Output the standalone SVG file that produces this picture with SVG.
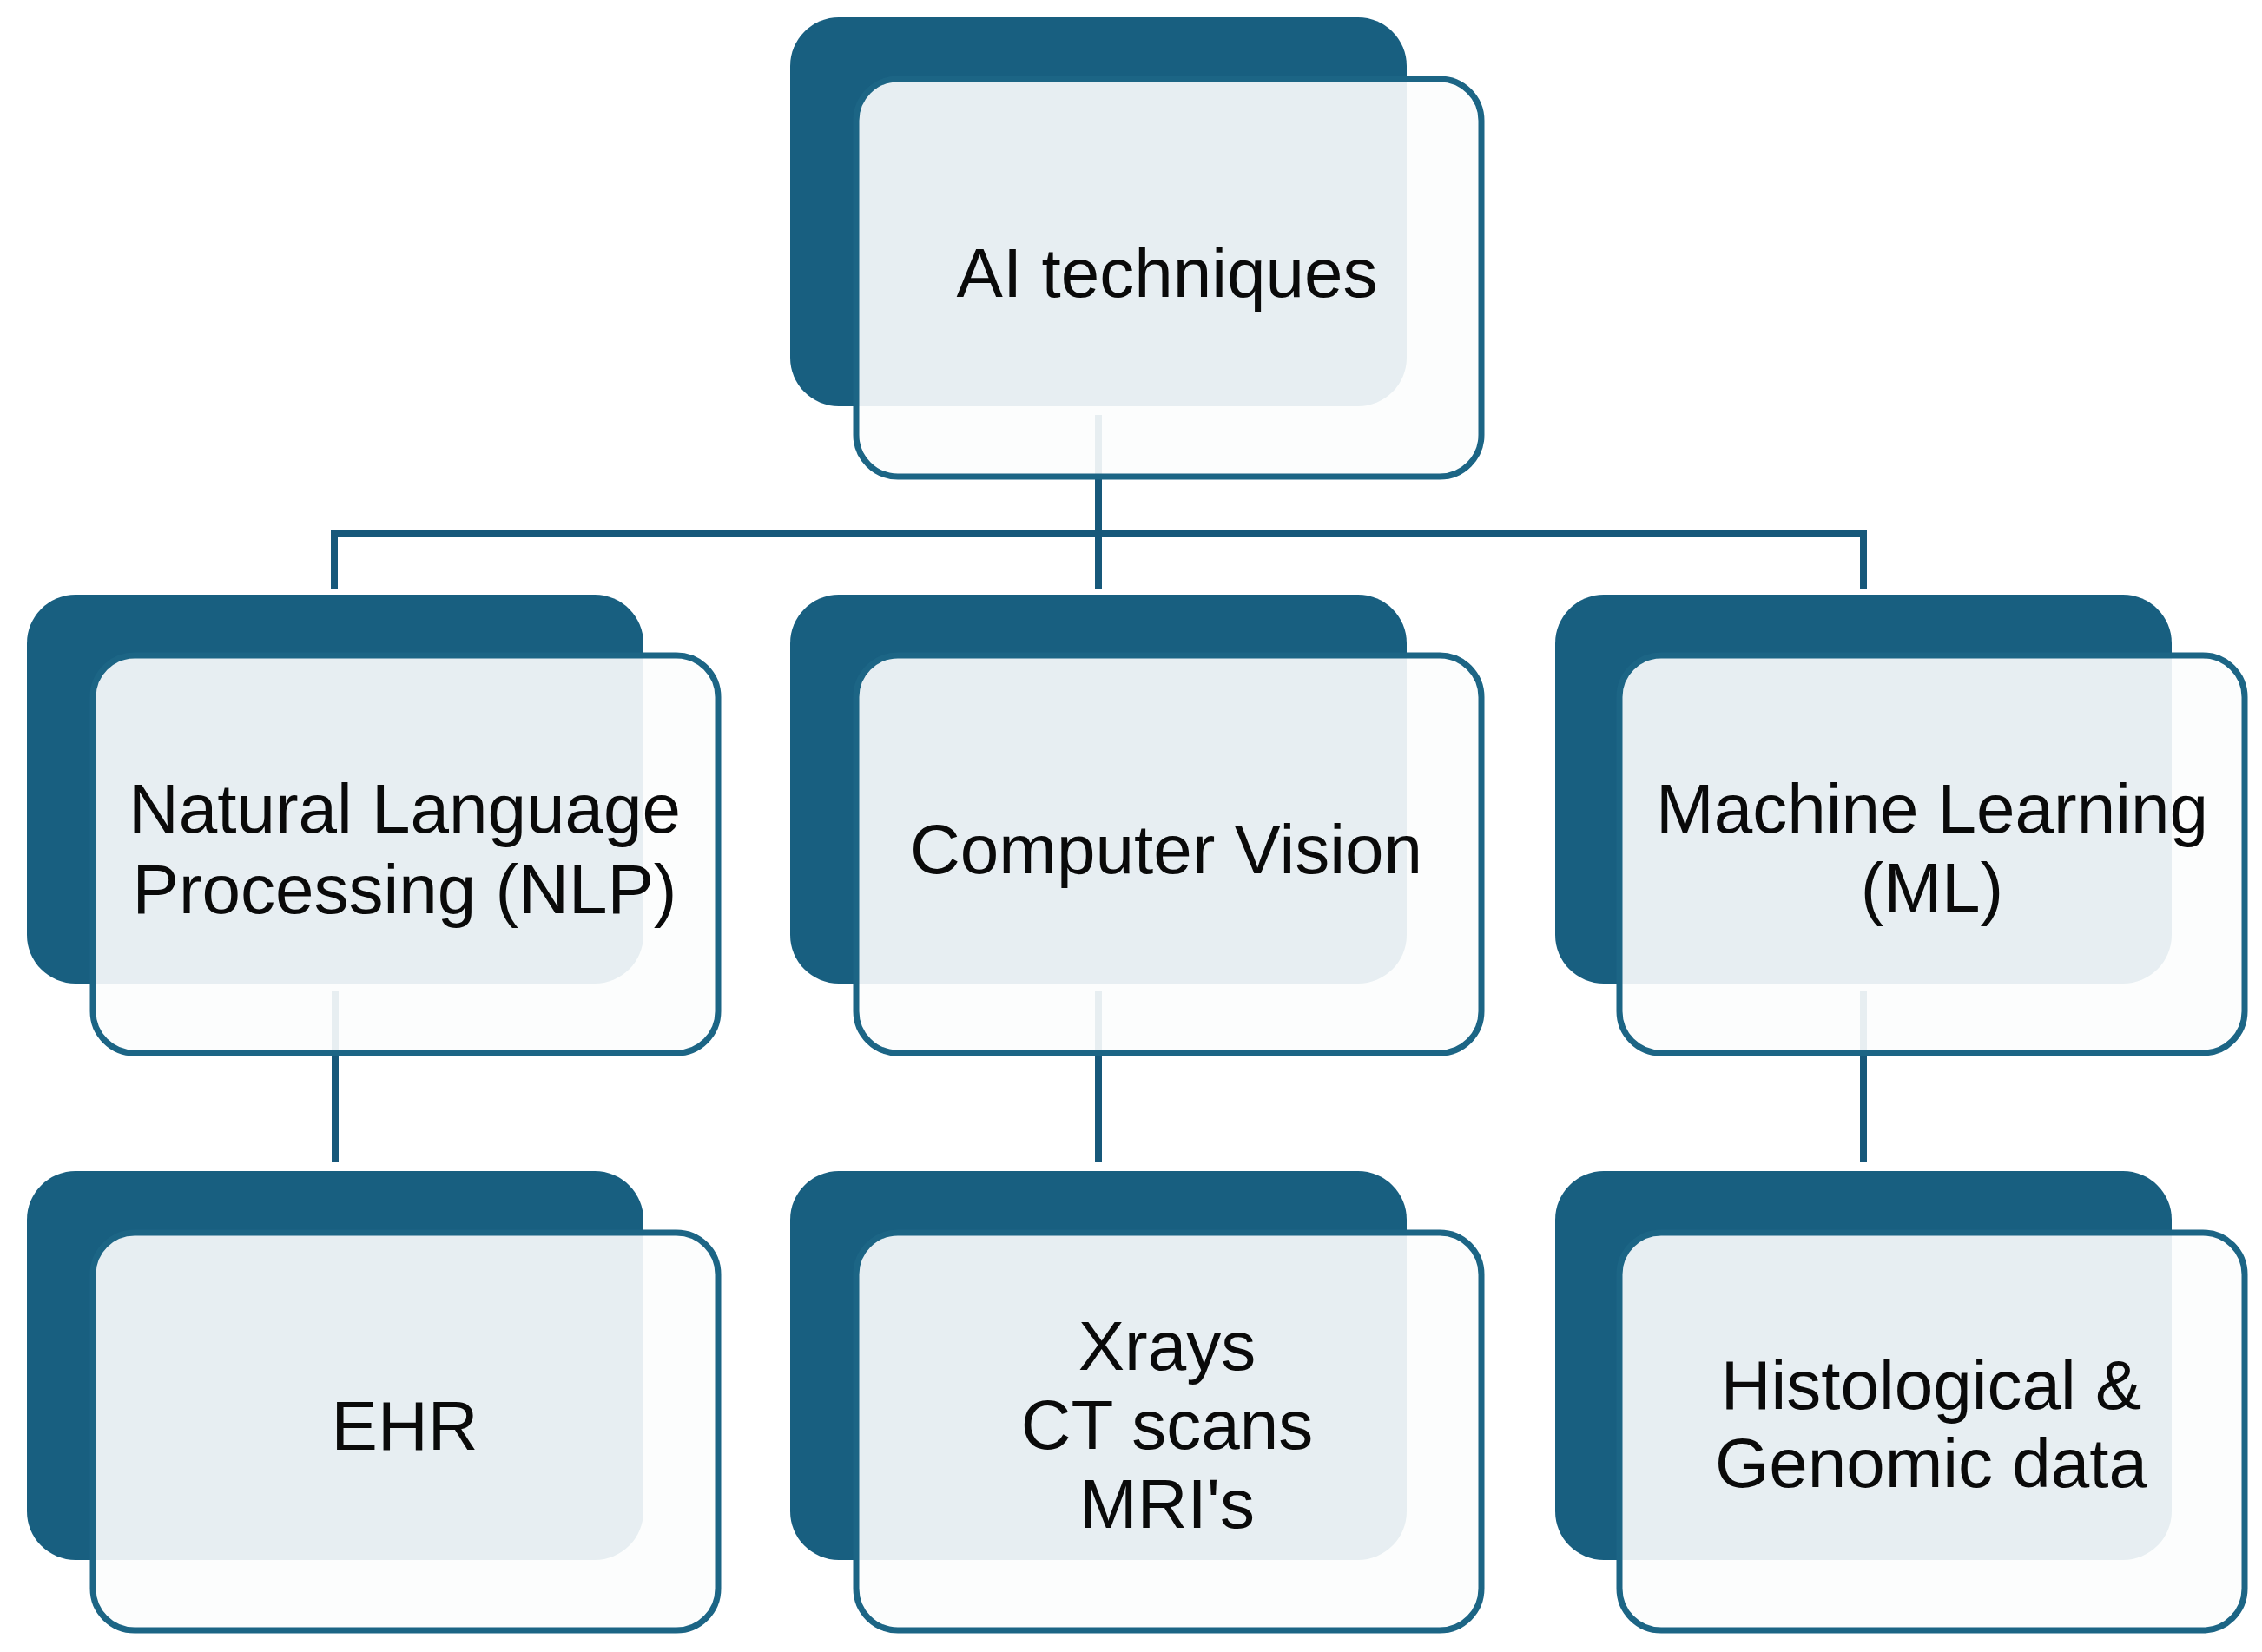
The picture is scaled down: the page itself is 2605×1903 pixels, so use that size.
<svg xmlns="http://www.w3.org/2000/svg" width="2605" height="1903" viewBox="0 0 2605 1903">
<style>
.back{fill:#185f80}
.front{fill:#fcfdfd;fill-opacity:0.91;stroke:#1c6585;stroke-width:7}
.conn{stroke:#17587a;stroke-width:8;fill:none}
.lbl{font-family:"Liberation Sans",Arial,sans-serif;font-size:80px;fill:#0a0a0a;text-anchor:middle}
</style>
<rect width="2605" height="1903" fill="#ffffff"/>
<g id="connectors">
<path class="conn" d="M1265 478 V615"/>
<path class="conn" d="M385 679 V615 H2146 V679"/>
<path class="conn" d="M1265 615 V679"/>
<path class="conn" d="M386 1141 V1339"/>
<path class="conn" d="M1265 1141 V1339"/>
<path class="conn" d="M2146 1141 V1339"/>
</g>
<g id="ai-techniques">
<rect class="back" x="910" y="20" width="710" height="448" rx="56"/>
<rect class="front" x="986" y="91" width="720" height="458" rx="48"/>
<text class="lbl" x="1344" y="342">AI techniques</text>
</g>
<g id="nlp">
<rect class="back" x="31" y="685" width="710" height="448" rx="56"/>
<rect class="front" x="107" y="755" width="720" height="458" rx="48"/>
<text class="lbl" x="466" y="959">Natural Language</text>
<text class="lbl" x="466" y="1052">Processing (NLP)</text>
</g>
<g id="computer-vision">
<rect class="back" x="910" y="685" width="710" height="448" rx="56"/>
<rect class="front" x="986" y="755" width="720" height="458" rx="48"/>
<text class="lbl" x="1343" y="1006">Computer Vision</text>
</g>
<g id="ml">
<rect class="back" x="1791" y="685" width="710" height="448" rx="56"/>
<rect class="front" x="1865" y="755" width="720" height="458" rx="48"/>
<text class="lbl" x="2225" y="959">Machine Learning</text>
<text class="lbl" x="2225" y="1050">(ML)</text>
</g>
<g id="ehr">
<rect class="back" x="31" y="1349" width="710" height="448" rx="56"/>
<rect class="front" x="107" y="1420" width="720" height="458" rx="48"/>
<text class="lbl" x="466" y="1670">EHR</text>
</g>
<g id="imaging">
<rect class="back" x="910" y="1349" width="710" height="448" rx="56"/>
<rect class="front" x="986" y="1420" width="720" height="458" rx="48"/>
<text class="lbl" x="1344" y="1578">Xrays</text>
<text class="lbl" x="1344" y="1669">CT scans</text>
<text class="lbl" x="1344" y="1760">MRI's</text>
</g>
<g id="histo-genomic">
<rect class="back" x="1791" y="1349" width="710" height="448" rx="56"/>
<rect class="front" x="1865" y="1420" width="720" height="458" rx="48"/>
<text class="lbl" x="2224" y="1623">Histological &amp;</text>
<text class="lbl" x="2224" y="1713">Genomic data</text>
</g>
</svg>
